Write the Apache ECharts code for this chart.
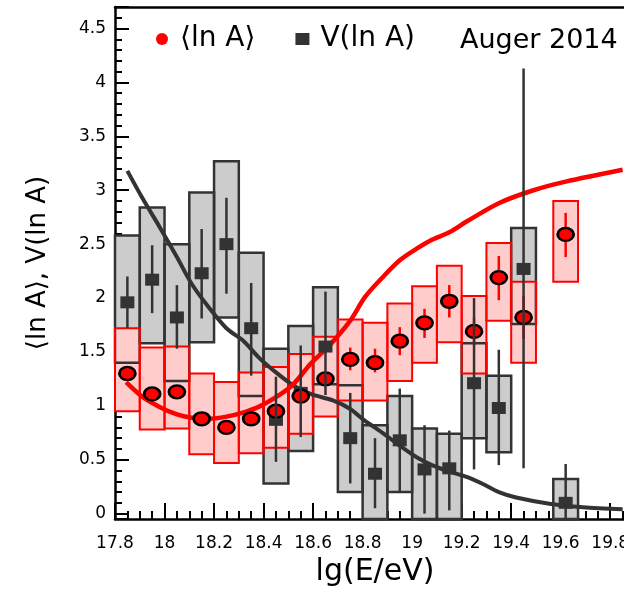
<!DOCTYPE html>
<html><head><meta charset="utf-8">
<script src="https://cdn.jsdelivr.net/npm/echarts@6/dist/echarts.min.js"></script>
<style>html,body{margin:0;padding:0;background:#fff}#c{width:624px;height:602px}</style>
</head><body><div id="c"></div>
<script>
// ---- data ----
const energy = [17.85,17.95,18.05,18.15,18.25,18.35,18.45,18.55,18.65,18.75,18.85,18.95,19.05,19.15,19.25,19.35,19.45,19.62];
const binHalfWidth = 0.05;

const lnA       = [1.30,1.11,1.13,0.88,0.80,0.88,0.95,1.09,1.25,1.43,1.40,1.60,1.77,1.97,1.69,2.19,1.82,2.59];
const lnAStatLo = [1.26,1.08,1.10,0.85,0.74,0.83,0.91,1.05,1.20,1.33,1.31,1.47,1.63,1.82,1.56,1.98,1.62,2.38];
const lnAStatHi = [1.34,1.14,1.16,0.92,0.86,0.94,1.00,1.13,1.31,1.54,1.53,1.73,1.90,2.12,1.82,2.39,2.02,2.79];
const lnASysLo  = [0.95,0.78,0.79,0.55,0.47,0.56,0.61,0.74,0.90,1.05,1.05,1.23,1.40,1.59,1.30,1.79,1.40,2.15];
const lnASysHi  = [1.72,1.54,1.55,1.30,1.22,1.31,1.36,1.48,1.64,1.80,1.77,1.95,2.11,2.30,2.02,2.51,2.15,2.90];

const vlnA      = [1.96,2.17,1.82,2.23,2.50,1.72,0.87,1.12,1.55,0.70,0.37,0.68,0.41,0.42,1.21,0.98,2.27,0.10];
const vStatLo   = [1.72,1.86,1.53,1.81,2.04,1.28,0.48,0.71,1.10,0.28,0.05,0.20,0.00,0.03,0.41,0.45,0.42,-0.05];
const vStatHi   = [2.20,2.49,2.12,2.64,2.93,2.14,1.27,1.56,2.06,1.12,0.70,1.16,0.82,0.77,2.00,1.52,4.13,0.46];
const vSysLo    = [1.40,1.58,1.23,1.59,1.82,1.09,0.28,0.58,1.20,0.20,-0.05,0.20,-0.05,-0.05,0.70,0.57,1.76,-0.05];
const vSysHi    = [2.58,2.84,2.50,2.98,3.27,2.42,1.53,1.74,2.10,1.19,0.82,1.09,0.79,0.74,1.58,1.28,2.65,0.32];

const modelLnAx = [17.845,17.91,17.98,18.05,18.11,18.18,18.25,18.32,18.38,18.45,18.52,18.59,18.67,18.75,18.81,18.88,18.95,19.02,19.08,19.15,19.22,19.35,19.49,19.62,19.85];
const modelLnAy = [1.22,1.085,0.99,0.92,0.89,0.88,0.90,0.94,0.99,1.08,1.20,1.39,1.57,1.79,2.01,2.19,2.35,2.46,2.54,2.61,2.71,2.88,3.00,3.08,3.19];
const modelVx   = [17.85,17.91,17.98,18.05,18.11,18.18,18.25,18.32,18.38,18.45,18.52,18.59,18.68,18.75,18.81,18.88,18.95,19.02,19.08,19.15,19.22,19.29,19.35,19.42,19.56,19.69,19.85];
const modelVy   = [3.18,2.93,2.66,2.38,2.13,1.91,1.72,1.60,1.45,1.31,1.19,1.11,1.05,0.97,0.86,0.75,0.63,0.52,0.45,0.39,0.34,0.27,0.20,0.15,0.09,0.06,0.04];

const xTickLabels = ['17.8','18','18.2','18.4','18.6','18.8','19','19.2','19.4','19.6','19.8'];
const yTickLabels = ['0','0.5','1','1.5','2','2.5','3','3.5','4','4.5'];

// ---- chart ----
const FONT = 'DejaVu Sans';
const RED = '#ff0000', DARK = '#333333', GRAYFILL = '#cccccc', PINK = '#ffcccc';

function boxSeries(lo, hi, fill, stroke, lw, z) {
  return {
    type: 'custom', z: z, silent: true, clip: false,
    data: energy.map((e, i) => [e, lo[i], hi[i]]),
    encode: { x: 0, y: [1, 2] },
    renderItem: function (params, api) {
      const x = api.value(0), l = api.value(1), h = api.value(2);
      const p1 = api.coord([x - binHalfWidth, h]);
      const p2 = api.coord([x + binHalfWidth, l]);
      return { type: 'rect',
        shape: { x: p1[0], y: p1[1], width: p2[0] - p1[0], height: p2[1] - p1[1] },
        style: { fill: fill, stroke: stroke, lineWidth: lw } };
    }
  };
}
function errSeries(lo, hi, color, lw, z) {
  return {
    type: 'custom', z: z, silent: true, clip: false,
    data: energy.map((e, i) => [e, lo[i], hi[i]]),
    encode: { x: 0, y: [1, 2] },
    renderItem: function (params, api) {
      const x = api.value(0);
      const a = api.coord([x, api.value(1)]);
      const b = api.coord([x, api.value(2)]);
      return { type: 'line', shape: { x1: a[0], y1: a[1], x2: b[0], y2: b[1] },
        style: { stroke: color, lineWidth: lw } };
    }
  };
}

const chart = echarts.init(document.getElementById('c'), null, { renderer: 'canvas' });
chart.setOption({
  animation: false,
  backgroundColor: '#fff',
  textStyle: { fontFamily: FONT },
  title: { text: 'Auger 2014', left: 455, top: 22,
    textStyle: { fontFamily: FONT, fontSize: 27, fontWeight: 'normal', color: '#000' } },
  legend: {
    left: 151, top: 20, itemWidth: 14, itemHeight: 12, itemGap: 40,
    selectedMode: false,
    textStyle: { fontFamily: FONT, fontSize: 28, color: '#000', padding: [0, 0, 0, 6] },
    data: [
      { name: '⟨ln A⟩', icon: 'circle', itemStyle: { color: RED, borderWidth: 0 } },
      { name: 'V(ln A)', icon: 'rect', itemStyle: { color: DARK, borderWidth: 0 } }
    ]
  },
  grid: { left: 115, top: 7, width: 520, height: 512, containLabel: false, outerBoundsMode: 'none' },
  xAxis: [{
    type: 'value', min: 17.8, max: 19.9, interval: 0.2,
    axisLine: { show: true, onZero: false, lineStyle: { color: '#000', width: 2.5 } },
    axisTick: { show: true, inside: true, length: 16, lineStyle: { color: '#000', width: 2 } },
    minorTick: { show: true, splitNumber: 4, length: 8, lineStyle: { color: '#000', width: 2 } },
    splitLine: { show: false },
    axisLabel: { margin: 16, fontSize: 17, fontFamily: FONT, color: '#000',
      formatter: function (v) { const s = String(+v.toFixed(1)); return xTickLabels.indexOf(s) >= 0 ? s : ''; } },
    name: 'lg(E/eV)', nameLocation: 'middle', nameGap: 38,
    nameTextStyle: { fontFamily: FONT, fontSize: 30, color: '#000' }
  }, {
    type: 'value', min: 17.8, max: 19.9, position: 'top',
    axisLine: { show: true, onZero: false, lineStyle: { color: '#000', width: 2.5 } },
    axisTick: { show: false }, axisLabel: { show: false }, splitLine: { show: false }
  }],
  yAxis: {
    type: 'value', min: -0.05, max: 4.7, splitNumber: 10, minInterval: 0.5, maxInterval: 0.5,
    axisLine: { show: true, onZero: false, lineStyle: { color: '#000', width: 2.5 } },
    axisTick: { show: true, inside: true, length: 14, lineStyle: { color: '#000', width: 2 } },
    minorTick: { show: true, splitNumber: 5, length: 7, lineStyle: { color: '#000', width: 2 } },
    splitLine: { show: false },
    axisLabel: { margin: 9, fontSize: 17, fontFamily: FONT, color: '#000',
      formatter: function (v) { const s = String(+v.toFixed(2)); return yTickLabels.indexOf(s) >= 0 ? s : ''; } },
    name: '⟨ln A⟩, V(ln A)', nameLocation: 'middle', nameGap: 64,
    nameTextStyle: { fontFamily: FONT, fontSize: 26, color: '#000' }
  },
  series: [
    boxSeries(vSysLo, vSysHi, GRAYFILL, null, 0, 1),
    boxSeries(lnASysLo, lnASysHi, PINK, null, 0, 2),
    boxSeries(vSysLo, vSysHi, 'none', DARK, 2.5, 3),
    boxSeries(lnASysLo, lnASysHi, 'none', RED, 2, 4),
    { type: 'line', z: 5, silent: true, symbol: 'none', smooth: 0.3,
      data: modelVx.map((x, i) => [x, modelVy[i]]),
      lineStyle: { color: DARK, width: 4 } },
    { type: 'line', z: 5, silent: true, symbol: 'none', smooth: 0.3,
      data: modelLnAx.map((x, i) => [x, modelLnAy[i]]),
      lineStyle: { color: RED, width: 4.5 } },
    errSeries(lnAStatLo, lnAStatHi, RED, 2.5, 6),
    { type: 'scatter', name: 'V(ln A)', z: 7, silent: true, symbol: 'rect', symbolSize: [14, 12],
      data: energy.map((e, i) => [e, vlnA[i]]),
      itemStyle: { color: DARK, opacity: 1 } },
    { type: 'scatter', name: '⟨ln A⟩', z: 8, silent: true, symbol: 'circle', symbolSize: [16, 13],
      data: energy.map((e, i) => [e, lnA[i]]),
      itemStyle: { color: RED, borderColor: '#000', borderWidth: 2.5, opacity: 1 } },
    errSeries(vStatLo, vStatHi, DARK, 2.5, 9)
  ]
});
</script></body></html>
